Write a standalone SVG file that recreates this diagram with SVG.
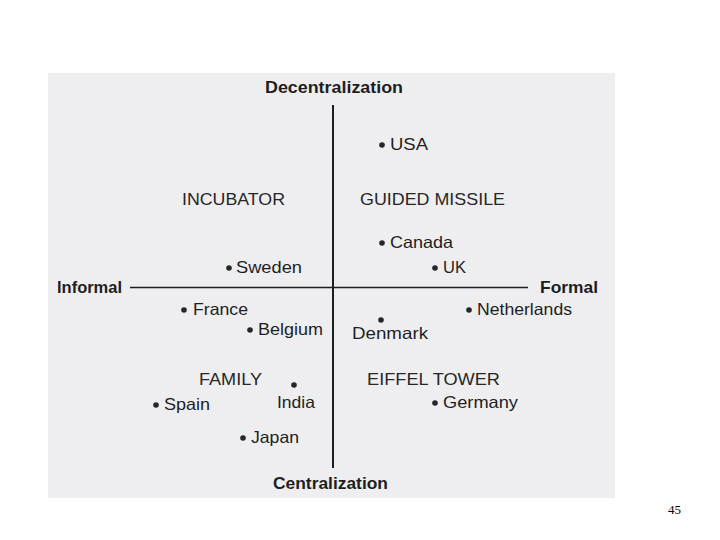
<svg xmlns="http://www.w3.org/2000/svg" width="720" height="540" viewBox="0 0 720 540">
<style>
.ax{font-family:"Liberation Sans",Arial,sans-serif;font-weight:bold;font-size:16.5px;fill:#1e1e1e}
.q{font-family:"Liberation Sans",Arial,sans-serif;font-size:16.5px;fill:#262626}
.c{font-family:"Liberation Sans",Arial,sans-serif;font-size:16.5px;fill:#1e1e1e}
.d{fill:#262626}
</style>
<rect x="0" y="0" width="720" height="540" fill="#ffffff"/>
<rect x="48" y="73" width="567" height="425" fill="#eeeef1"/>
<g id="connectors" stroke="#1e1e1e" fill="none">
<line x1="333" y1="105" x2="333" y2="468" stroke-width="2"/>
<line x1="130" y1="287.5" x2="528" y2="287.5" stroke-width="1.5"/>
</g>
<g id="axis-labels">
<text class="ax" x="265" y="93" textLength="138" lengthAdjust="spacingAndGlyphs">Decentralization</text>
<text class="ax" x="273" y="489" textLength="115" lengthAdjust="spacingAndGlyphs">Centralization</text>
<text class="ax" x="57" y="293" textLength="65" lengthAdjust="spacingAndGlyphs">Informal</text>
<text class="ax" x="540" y="293" textLength="58" lengthAdjust="spacingAndGlyphs">Formal</text>
</g>
<g id="quadrants">
<text class="q" x="182" y="205" textLength="103" lengthAdjust="spacingAndGlyphs">INCUBATOR</text>
<text class="q" x="360" y="205" textLength="145" lengthAdjust="spacingAndGlyphs">GUIDED MISSILE</text>
<text class="q" x="199" y="385" textLength="63" lengthAdjust="spacingAndGlyphs">FAMILY</text>
<text class="q" x="367" y="385" textLength="133" lengthAdjust="spacingAndGlyphs">EIFFEL TOWER</text>
</g>
<g id="usa"><circle class="d" cx="382" cy="145" r="2.8"/><text class="c" x="390" y="150" textLength="38" lengthAdjust="spacingAndGlyphs">USA</text></g>
<g id="canada"><circle class="d" cx="382" cy="243" r="2.8"/><text class="c" x="390" y="248" textLength="63" lengthAdjust="spacingAndGlyphs">Canada</text></g>
<g id="uk"><circle class="d" cx="435" cy="268" r="2.8"/><text class="c" x="443" y="273" textLength="23" lengthAdjust="spacingAndGlyphs">UK</text></g>
<g id="sweden"><circle class="d" cx="229" cy="268" r="2.8"/><text class="c" x="236" y="273" textLength="66" lengthAdjust="spacingAndGlyphs">Sweden</text></g>
<g id="france"><circle class="d" cx="184" cy="310" r="2.8"/><text class="c" x="193" y="315" textLength="55" lengthAdjust="spacingAndGlyphs">France</text></g>
<g id="belgium"><circle class="d" cx="250" cy="330" r="2.8"/><text class="c" x="258" y="335" textLength="65" lengthAdjust="spacingAndGlyphs">Belgium</text></g>
<g id="netherlands"><circle class="d" cx="469" cy="310" r="2.8"/><text class="c" x="477" y="315" textLength="95" lengthAdjust="spacingAndGlyphs">Netherlands</text></g>
<g id="denmark"><circle class="d" cx="381" cy="320" r="2.8"/><text class="c" x="352" y="339" textLength="76" lengthAdjust="spacingAndGlyphs">Denmark</text></g>
<g id="india"><circle class="d" cx="294" cy="385" r="2.8"/><text class="c" x="277" y="408" textLength="38" lengthAdjust="spacingAndGlyphs">India</text></g>
<g id="spain"><circle class="d" cx="156" cy="405" r="2.8"/><text class="c" x="164" y="410" textLength="46" lengthAdjust="spacingAndGlyphs">Spain</text></g>
<g id="germany"><circle class="d" cx="435" cy="403" r="2.8"/><text class="c" x="443" y="408" textLength="75" lengthAdjust="spacingAndGlyphs">Germany</text></g>
<g id="japan"><circle class="d" cx="243" cy="438" r="2.8"/><text class="c" x="251" y="443" textLength="48" lengthAdjust="spacingAndGlyphs">Japan</text></g>
<text x="668" y="514" font-family="'Liberation Serif','Times New Roman',serif" font-size="13" fill="#000">45</text>
</svg>
